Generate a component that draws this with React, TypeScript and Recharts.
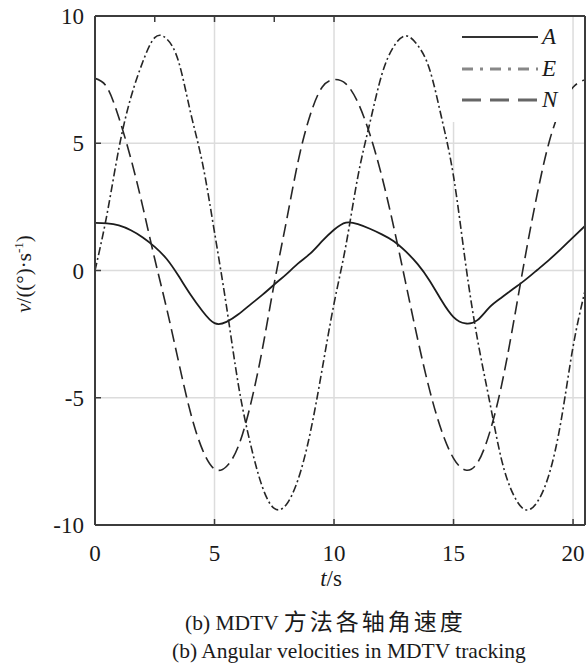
import React from 'react';
import { LineChart, Line, XAxis, YAxis, CartesianGrid, Legend } from 'recharts';

// time axis (s)
const T = [
  0, 0.5, 1, 1.5, 2, 2.5, 3, 3.5, 4, 4.5, 5, 5.5, 6, 6.5, 7, 7.5, 8, 8.5, 9, 9.5, 10,
  10.5, 11, 11.5, 12, 12.5, 13, 13.5, 14, 14.5, 15, 15.5, 16, 16.5, 17, 17.5, 18, 18.5,
  19, 19.5, 20, 20.5,
];

// angular velocity per axis, (°)/s
const A_VALUES = [
  1.87, 1.85, 1.77, 1.58, 1.3, 0.93, 0.45, -0.22, -0.95, -1.6, -2.07, -2.02, -1.72, -1.34,
  -0.96, -0.55, -0.15, 0.28, 0.66, 1.15, 1.6, 1.88, 1.82, 1.64, 1.42, 1.15, 0.75, 0.25, -0.4,
  -1.18, -1.83, -2.08, -1.95, -1.45, -1.07, -0.72, -0.37, 0.02, 0.42, 0.85, 1.3, 1.75,
];
const E_VALUES = [
  0, 2.2, 4.8, 6.8, 8.2, 9.15, 9.1, 8.2, 6.2, 4.2, 1.5, -1.4, -4.5, -6.8, -8.5, -9.35, -9.2,
  -8.2, -6.4, -3.9, -1.3, 1.0, 3.7, 5.8, 7.7, 8.8, 9.22, 8.85, 7.9, 6.0, 3.7, 0.3, -2.7, -5.1,
  -7.4, -8.8, -9.4, -9.1, -8.0, -5.9, -3.0, -0.8,
];
const N_VALUES = [
  7.55, 7.2, 6.0, 4.4, 2.5, 0.45, -1.5, -3.6, -5.6, -7.05, -7.8, -7.7, -6.9, -5.3, -3.1, -0.5,
  1.9, 4.3, 6.1, 7.2, 7.5, 7.33, 6.6, 5.35, 3.7, 1.7, -0.5, -2.7, -4.7, -6.3, -7.38, -7.84,
  -7.56, -6.4, -4.55, -2.1, 0.55, 3.0, 5.05, 6.4, 7.2, 7.5,
];

const SERIES_NAMES = ['A', 'E', 'N'];
const X_TICKS = [0, 5, 10, 15, 20];
const Y_TICKS = [-10, -5, 0, 5, 10];

const data = T.map((t, i) => ({ t, A: A_VALUES[i], E: E_VALUES[i], N: N_VALUES[i] }));

const SERIF = '"Liberation Serif", "Times New Roman", Times, "DejaVu Serif", serif';
const FRAME = '#3c3c3c';
const TICK_LEN = 6;
const X_GAP = 20;
const Y_GAP = 11;

// plot line styles + legend sample styles
const lineStyle: Record<string, any> = {
  A: { stroke: '#1c1c1c', width: 1.8, dash: undefined, legendStroke: '#333', legendWidth: 2, legendDash: undefined },
  E: { stroke: '#262626', width: 1.6, dash: '8 3 2 3', legendStroke: '#888', legendWidth: 3, legendDash: '11 7 3 7' },
  N: { stroke: '#262626', width: 1.6, dash: '13 6', legendStroke: '#666', legendWidth: 3, legendDash: '19 9' },
};

const textStyle = { fontFamily: SERIF };

const BottomTick = (props: any) => {
  const { x, y, payload } = props;
  return (
    <g>
      <line x1={x} x2={x} y1={y - X_GAP} y2={y - X_GAP - TICK_LEN} stroke={FRAME} strokeWidth={1.5} />
      <text x={x} y={y} dy="0.71em" textAnchor="middle" fontSize={23} style={textStyle} fill="#1a1a1a">
        {payload.value}
      </text>
    </g>
  );
};

const LeftTick = (props: any) => {
  const { x, y, payload } = props;
  return (
    <g>
      <line x1={x + Y_GAP} x2={x + Y_GAP + TICK_LEN} y1={y} y2={y} stroke={FRAME} strokeWidth={1.5} />
      <text x={x} y={y} dy="0.35em" textAnchor="end" fontSize={23} style={textStyle} fill="#1a1a1a">
        {payload.value}
      </text>
    </g>
  );
};

const TopTick = (props: any) => {
  const { x, y } = props;
  return <line x1={x} x2={x} y1={y} y2={y + TICK_LEN} stroke={FRAME} strokeWidth={1.5} />;
};

const RightTick = (props: any) => {
  const { x, y } = props;
  return <line x1={x} x2={x - TICK_LEN} y1={y} y2={y} stroke={FRAME} strokeWidth={1.5} />;
};

const renderLegend = () => (
  <div style={{ background: '#fff', width: 124, height: 105, position: 'relative' }}>
    {SERIES_NAMES.map((name, i) => {
      const s = lineStyle[name];
      return (
        <div key={name} style={{ position: 'absolute', left: 14, top: 20 + i * 31.5 - 14, height: 28, display: 'flex', alignItems: 'center' }}>
          <svg width={76} height={8}>
            <line x1={0} x2={76} y1={4} y2={4} stroke={s.legendStroke} strokeWidth={s.legendWidth} strokeDasharray={s.legendDash} />
          </svg>
          <span style={{ fontFamily: SERIF, fontStyle: 'italic', fontSize: 23, marginLeft: 4, color: '#1a1a1a' }}>{name}</span>
        </div>
      );
    })}
  </div>
);

export default function App() {
  return (
    <div style={{ position: 'absolute', left: 0, top: 0, width: 586, height: 666, background: '#fff' }}>
      <LineChart width={586} height={575} data={data} margin={{ top: 15, right: 0, bottom: 0, left: 0 }}>
        <CartesianGrid stroke="#dcdcdc" strokeWidth={1.5} />
        <XAxis
          dataKey="t"
          type="number"
          domain={[0, 20.5]}
          ticks={X_TICKS}
          interval={0}
          allowDataOverflow
          height={50}
          tickSize={0}
          tickMargin={X_GAP}
          tick={<BottomTick />}
          axisLine={{ stroke: FRAME, strokeWidth: 2 }}
        />
        <XAxis
          xAxisId="top"
          orientation="top"
          type="number"
          domain={[0, 20.5]}
          ticks={X_TICKS}
          interval={0}
          height={1}
          tickSize={0}
          tickMargin={0}
          tick={<TopTick />}
          axisLine={{ stroke: FRAME, strokeWidth: 2 }}
        />
        <YAxis
          type="number"
          domain={[-10, 10]}
          ticks={Y_TICKS}
          interval={0}
          width={95}
          tickSize={0}
          tickMargin={Y_GAP}
          tick={<LeftTick />}
          axisLine={{ stroke: FRAME, strokeWidth: 2 }}
        />
        <YAxis
          yAxisId="right"
          orientation="right"
          type="number"
          domain={[-10, 10]}
          ticks={Y_TICKS}
          interval={0}
          width={1}
          tickSize={0}
          tickMargin={0}
          tick={<RightTick />}
          axisLine={{ stroke: FRAME, strokeWidth: 2 }}
        />
        {SERIES_NAMES.map((name) => (
          <Line
            key={name}
            dataKey={name}
            type="natural"
            stroke={lineStyle[name].stroke}
            strokeWidth={lineStyle[name].width}
            strokeDasharray={lineStyle[name].dash}
            dot={false}
            activeDot={false}
            isAnimationActive={false}
          />
        ))}
        <Legend
          layout="vertical"
          align="center"
          verticalAlign="middle"
          content={renderLegend}
          wrapperStyle={{ top: 17, left: 448, width: 124, height: 105 }}
        />
      </LineChart>

      {/* y axis title */}
      <div
        style={{
          position: 'absolute', left: -36, top: 261, width: 120, height: 26, lineHeight: '26px',
          textAlign: 'center', transform: 'rotate(-90deg)', fontFamily: SERIF, fontSize: 21, color: '#1a1a1a',
          whiteSpace: 'nowrap',
        }}
      >
        <i>v</i>/((°)·s<span style={{ fontSize: 13, position: 'relative', top: -8 }}>-1</span>)
      </div>

      {/* x axis title */}
      <div
        style={{
          position: 'absolute', left: 281, top: 565, width: 100, textAlign: 'center',
          fontFamily: SERIF, fontSize: 23, lineHeight: '28px', color: '#1a1a1a',
        }}
      >
        <i>t</i>/s
      </div>

      {/* captions */}
      <div
        style={{
          position: 'absolute', left: 185, top: 606, whiteSpace: 'nowrap',
          fontFamily: SERIF, fontSize: 21.5, lineHeight: '28px', color: '#1a1a1a',
        }}
      >
        (b) MDTV{' '}
        <span style={{ fontFamily: '"Noto Sans CJK SC", sans-serif', fontSize: 23, letterSpacing: 3 }}>方法各轴角速度</span>
      </div>
      <div
        style={{
          position: 'absolute', left: 172, top: 637, whiteSpace: 'nowrap',
          fontFamily: SERIF, fontSize: 21.5, lineHeight: '28px', color: '#1a1a1a',
        }}
      >
        (b) Angular velocities in MDTV tracking
      </div>
    </div>
  );
}
